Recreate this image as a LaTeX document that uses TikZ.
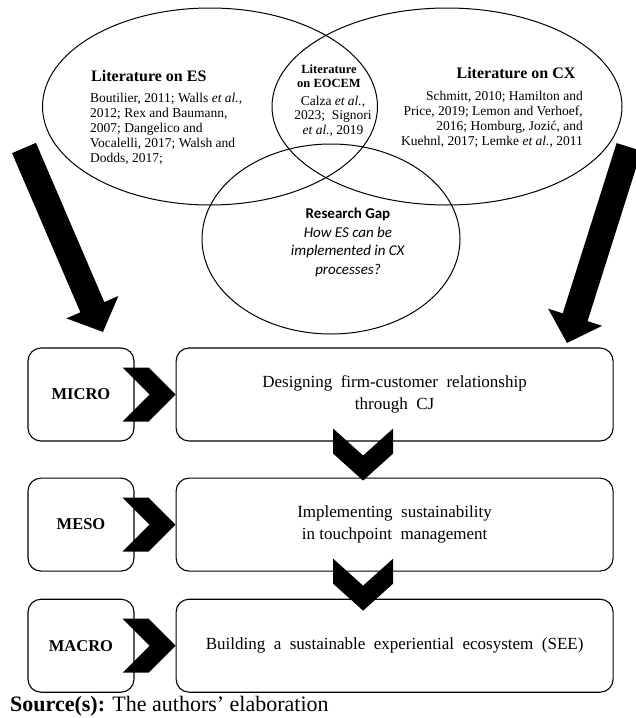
\documentclass[tikz,border=0pt]{standalone}
\usepackage{fontspec}
\setmainfont{Liberation Serif}
\newfontfamily\gapfont{Carlito}
\usetikzlibrary{positioning,calc,shapes.geometric,arrows.meta}
\tikzstyle{lit} = [draw,ellipse,line width=1pt,inner sep=0pt]
\tikzstyle{head} = [inner sep=0pt,font=\fontsize{16}{19}\selectfont\bfseries]
\tikzstyle{refs} = [inner sep=0pt,font=\fontsize{13.5}{15}\selectfont]
\tikzstyle{level} = [draw,line width=1.1pt,rounded corners=13pt,minimum width=106pt,minimum height=93pt,font=\fontsize{16.5}{20}\selectfont\bfseries]
\tikzstyle{stage} = [draw,line width=1.1pt,rounded corners=13pt,minimum width=437pt,minimum height=93pt,align=center,font=\fontsize{17}{22}\selectfont]
\tikzstyle{bigarrow} = [line width=26pt,-{Triangle[length=27pt,width=55pt]}]
\tikzset{
  chevr/.pic={\fill (-53,-27) -- (-27,-27) -- (0,0) -- (-27,27) -- (-53,27) -- (-26,0) -- cycle;},
  chevd/.pic={\fill (-30,0) -- (0,27) -- (30,0) -- (30,25) -- (0,52) -- (-30,25) -- cycle;}
}

\begin{document}
\begin{tikzpicture}[x=1pt,y=-1pt]
   \useasboundingbox (0,0) rectangle (636,718);

   % the three literature streams
   \node[lit,minimum width=335pt,minimum height=197pt] (es) at (210,106.5) {};
   \node[lit,minimum width=350pt,minimum height=197pt] (cx) at (447,106.5) {};
   \node[lit,minimum width=258pt,minimum height=190pt] (gap) at (331,239) {};

   \node[head,anchor=base west] (eshead) at (91,81) {Literature on ES};
   \node[refs,anchor=north west,align=left] (esrefs) at (90,93)
     {Boutilier, 2011; Walls \textit{et al.},\\2012; Rex and Baumann,\\2007; Dangelico and\\Vocalelli, 2017; Walsh and\\Dodds, 2017;};
   \node[head,anchor=base] (cxhead) at (516,78) {Literature on CX};
   \node[refs,anchor=north east,align=right] (cxrefs) at (583,90.5)
     {Schmitt, 2010; Hamilton and\\Price, 2019; Lemon and Verhoef,\\2016; Homburg, Jozić, and\\Kuehnl, 2017; Lemke \textit{et al.}, 2011};
   \node[inner sep=0pt,anchor=north,align=center,font=\fontsize{12.5}{14}\selectfont\bfseries] (eocemhead) at (329,64.5) {Literature\\on EOCEM};
   \node[refs,anchor=north,align=center,font=\fontsize{13.5}{14.5}\selectfont] (eocemrefs) at (333,95.5)
     {Calza \textit{et al.},\\2023;\ \ Signori\\\textit{et al.}, 2019};
   \node[inner sep=0pt,anchor=north,align=center,font=\gapfont\fontsize{15}{18.5}\selectfont] (gaptext) at (348,208)
     {\textbf{Research Gap}\\\textit{How ES can be}\\\textit{implemented in CX}\\\textit{processes?}};

   % levels
   \node[level] (micro) at (81,394.5) {MICRO};
   \node[stage] (cj) [right=41pt of micro] {Designing\ \ firm-customer\ \ relationship\\through\ \ CJ};
   \node[level] (meso) [below=36pt of micro] {MESO};
   \node[stage] (touch) [right=41pt of meso] {Implementing\ \ sustainability\\in touchpoint\ \ management};
   \node[level] (macro) [below=27pt of meso] {MACRO};
   \node[stage] (see) [right=41pt of macro] {Building\ \ a\ \ sustainable\ \ experiential\ \ ecosystem\ \ (SEE)};

   \pic at (cj.west) {chevr};
   \pic at (touch.west) {chevr};
   \pic at (see.west) {chevr};
   \pic at ($(cj.south)+(-31.5,-13)$) {chevd};
   \pic at ($(touch.south)+(-31.5,-13)$) {chevd};

   % big arrows into the levels
   \coordinate (esstart) at (24,148);
   \coordinate (esend) at (103,332);
   \coordinate (cxstart) at (629,147);
   \coordinate (cxend) at (567,343);
   \draw[bigarrow] (esstart) -- (esend);
   \draw[bigarrow] (cxstart) -- (cxend);

   \node[anchor=base west,inner sep=0pt,font=\fontsize{22}{26}\selectfont] (source) at (10,711.5) {\textbf{Source(s):} The authors' elaboration};
\end{tikzpicture}
\end{document}
